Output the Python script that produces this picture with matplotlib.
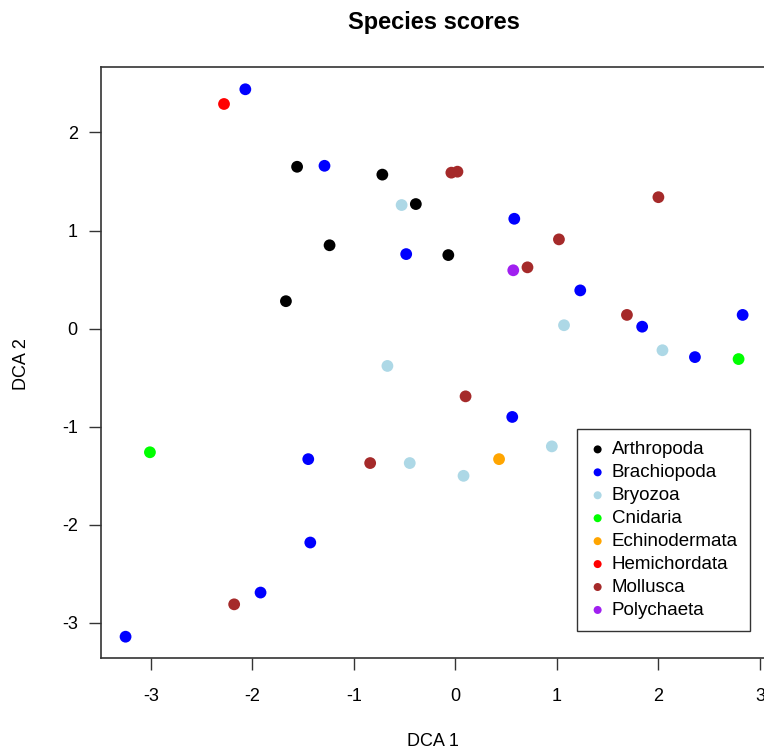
import matplotlib
matplotlib.use("Agg")
import matplotlib.pyplot as plt

plt.rcParams["font.family"] = ["Liberation Sans", "DejaVu Sans"]
plt.rcParams["axes.unicode_minus"] = False

# DCA species scores, grouped by phylum
phyla = ["Arthropoda", "Brachiopoda", "Bryozoa", "Cnidaria",
         "Echinodermata", "Hemichordata", "Mollusca", "Polychaeta"]
colours = ["black", "#0000FF", "#ADD8E6", "#00FF00",
           "#FFA500", "#FF0000", "#A52A2A", "#A020F0"]

arthropoda_x = [-1.56, -0.72, -0.39, -1.24, -0.07, -1.67]
arthropoda_y = [1.65, 1.57, 1.27, 0.85, 0.75, 0.28]

brachiopoda_x = [-2.07, -1.29, 0.58, -0.485, 1.23, 1.84, 2.36, 2.83,
                 0.56, -1.45, -1.43, -1.92, -3.25]
brachiopoda_y = [2.44, 1.66, 1.12, 0.76, 0.39, 0.02, -0.29, 0.14,
                 -0.90, -1.33, -2.18, -2.69, -3.14]

bryozoa_x = [-0.53, 1.07, 2.04, -0.67, 0.95, -0.45, 0.08]
bryozoa_y = [1.26, 0.035, -0.22, -0.38, -1.20, -1.37, -1.50]

cnidaria_x = [-3.01, 2.79]
cnidaria_y = [-1.26, -0.31]

echinodermata_x = [0.43]
echinodermata_y = [-1.33]

hemichordata_x = [-2.28]
hemichordata_y = [2.29]

mollusca_x = [-0.04, 0.02, 2.00, 1.02, 0.71, 1.69, 0.10, -0.84, -2.18]
mollusca_y = [1.59, 1.60, 1.34, 0.91, 0.625, 0.14, -0.69, -1.37, -2.81]

polychaeta_x = [0.57]
polychaeta_y = [0.595]

groups = [
    (arthropoda_x, arthropoda_y),
    (brachiopoda_x, brachiopoda_y),
    (bryozoa_x, bryozoa_y),
    (cnidaria_x, cnidaria_y),
    (echinodermata_x, echinodermata_y),
    (hemichordata_x, hemichordata_y),
    (mollusca_x, mollusca_y),
    (polychaeta_x, polychaeta_y),
]

W, H = 764, 749
fig = plt.figure(figsize=(W / 100, H / 100), dpi=100)
ax = fig.add_axes([100.7 / W, 1 - 658 / H, (767 - 100.7) / W, (658 - 67) / H])

for name, col, (xs, ys) in zip(phyla, colours, groups):
    ax.scatter(xs, ys, s=72, color=col, edgecolors="none", label=name, zorder=3)

ax.set_xlim(-3.495, 3.07)
ax.set_ylim(-3.357, 2.667)
ax.set_xticks(range(-3, 4))
ax.set_yticks(range(-3, 3))

for side in ("left", "bottom", "top"):
    ax.spines[side].set_color("#333333")
    ax.spines[side].set_linewidth(1.2)
ax.spines["right"].set_visible(False)

ax.tick_params(axis="x", length=8.6, width=1.0, pad=13, labelsize=13, color="#333333")
ax.tick_params(axis="y", length=8.6, width=1.0, pad=8, labelsize=13, color="#333333")

fig.text(433 / W, 1 - 746 / H, "DCA 1", ha="center", va="baseline", fontsize=13)
fig.text(21 / W, 1 - 364 / H, "DCA 2", ha="center", va="center",
         rotation=90, fontsize=13)
fig.text(434 / W, 1 - 29 / H, "Species scores", ha="center", va="baseline",
         fontsize=17, fontweight="bold")

leg = ax.legend(loc="upper left", bbox_to_anchor=(577 / W, 1 - 429 / H),
                bbox_transform=fig.transFigure, borderaxespad=0,
                fancybox=False, edgecolor="#333333", fontsize=13.5,
                markerscale=0.68, handletextpad=0.3, handlelength=0.9,
                labelspacing=0.31, borderpad=0.65, framealpha=1)
leg.get_frame().set_linewidth(1.0)

fig.savefig("out.png", dpi=100)
